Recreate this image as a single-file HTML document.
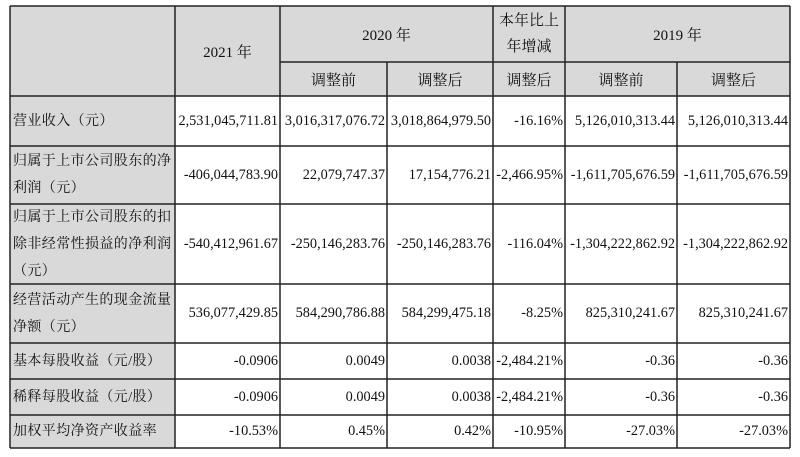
<!DOCTYPE html>
<html><head><meta charset="utf-8"><style>
body{margin:0;width:800px;height:457px;background:#fff;position:relative;overflow:hidden;font-family:"Liberation Serif","Noto Serif CJK SC",serif;color:#111;font-size:15px}
.c{position:absolute;box-sizing:border-box;display:flex;align-items:center}
.g{background:#d9d9d9}
.ctr{justify-content:center;text-align:center}
.r{justify-content:flex-end;padding-right:2px;white-space:nowrap;font-size:14.3px}
.l{padding-left:3px;line-height:27px;font-size:14px;letter-spacing:0.4px;white-space:nowrap}
svg{position:absolute;left:0;top:0}
</style></head><body>
<div class="c g" style="left:10px;top:6px;width:165px;height:90px"></div>
<div class="c g ctr" style="left:175px;top:6px;width:105px;height:90px">2021 年</div>
<div class="c g ctr" style="left:280px;top:6px;width:213px;height:56px">2020 年</div>
<div class="c g ctr" style="left:493px;top:6px;width:72px;height:56px;line-height:26px">本年比上<br>年增减</div>
<div class="c g ctr" style="left:565px;top:6px;width:225px;height:56px">2019 年</div>
<div class="c g ctr" style="left:280px;top:62px;width:107px;height:34px">调整前</div>
<div class="c g ctr" style="left:387px;top:62px;width:106px;height:34px">调整后</div>
<div class="c g ctr" style="left:493px;top:62px;width:72px;height:34px">调整后</div>
<div class="c g ctr" style="left:565px;top:62px;width:112px;height:34px">调整前</div>
<div class="c g ctr" style="left:677px;top:62px;width:113px;height:34px">调整后</div>

<div class="c g l" style="left:10px;top:96px;width:165px;height:50px">营业收入（元）</div>
<div class="c r" style="left:175px;top:96px;width:105px;height:50px">2,531,045,711.81</div>
<div class="c r" style="left:280px;top:96px;width:107px;height:50px">3,016,317,076.72</div>
<div class="c r" style="left:387px;top:96px;width:106px;height:50px">3,018,864,979.50</div>
<div class="c r" style="left:493px;top:96px;width:72px;height:50px">-16.16%</div>
<div class="c r" style="left:565px;top:96px;width:112px;height:50px">5,126,010,313.44</div>
<div class="c r" style="left:677px;top:96px;width:113px;height:50px">5,126,010,313.44</div>

<div class="c g l" style="left:10px;top:146px;width:165px;height:58px">归属于上市公司股东的净<br>利润（元）</div>
<div class="c r" style="left:175px;top:146px;width:105px;height:58px">-406,044,783.90</div>
<div class="c r" style="left:280px;top:146px;width:107px;height:58px">22,079,747.37</div>
<div class="c r" style="left:387px;top:146px;width:106px;height:58px">17,154,776.21</div>
<div class="c r" style="left:493px;top:146px;width:72px;height:58px">-2,466.95%</div>
<div class="c r" style="left:565px;top:146px;width:112px;height:58px">-1,611,705,676.59</div>
<div class="c r" style="left:677px;top:146px;width:113px;height:58px">-1,611,705,676.59</div>

<div class="c g l" style="left:10px;top:204px;width:165px;height:80px">归属于上市公司股东的扣<br>除非经常性损益的净利润<br>（元）</div>
<div class="c r" style="left:175px;top:204px;width:105px;height:80px">-540,412,961.67</div>
<div class="c r" style="left:280px;top:204px;width:107px;height:80px">-250,146,283.76</div>
<div class="c r" style="left:387px;top:204px;width:106px;height:80px">-250,146,283.76</div>
<div class="c r" style="left:493px;top:204px;width:72px;height:80px">-116.04%</div>
<div class="c r" style="left:565px;top:204px;width:112px;height:80px">-1,304,222,862.92</div>
<div class="c r" style="left:677px;top:204px;width:113px;height:80px">-1,304,222,862.92</div>

<div class="c g l" style="left:10px;top:284px;width:165px;height:59px">经营活动产生的现金流量<br>净额（元）</div>
<div class="c r" style="left:175px;top:284px;width:105px;height:59px">536,077,429.85</div>
<div class="c r" style="left:280px;top:284px;width:107px;height:59px">584,290,786.88</div>
<div class="c r" style="left:387px;top:284px;width:106px;height:59px">584,299,475.18</div>
<div class="c r" style="left:493px;top:284px;width:72px;height:59px">-8.25%</div>
<div class="c r" style="left:565px;top:284px;width:112px;height:59px">825,310,241.67</div>
<div class="c r" style="left:677px;top:284px;width:113px;height:59px">825,310,241.67</div>

<div class="c g l" style="left:10px;top:343px;width:165px;height:36px">基本每股收益（元/股）</div>
<div class="c r" style="left:175px;top:343px;width:105px;height:36px">-0.0906</div>
<div class="c r" style="left:280px;top:343px;width:107px;height:36px">0.0049</div>
<div class="c r" style="left:387px;top:343px;width:106px;height:36px">0.0038</div>
<div class="c r" style="left:493px;top:343px;width:72px;height:36px">-2,484.21%</div>
<div class="c r" style="left:565px;top:343px;width:112px;height:36px">-0.36</div>
<div class="c r" style="left:677px;top:343px;width:113px;height:36px">-0.36</div>

<div class="c g l" style="left:10px;top:379px;width:165px;height:36px">稀释每股收益（元/股）</div>
<div class="c r" style="left:175px;top:379px;width:105px;height:36px">-0.0906</div>
<div class="c r" style="left:280px;top:379px;width:107px;height:36px">0.0049</div>
<div class="c r" style="left:387px;top:379px;width:106px;height:36px">0.0038</div>
<div class="c r" style="left:493px;top:379px;width:72px;height:36px">-2,484.21%</div>
<div class="c r" style="left:565px;top:379px;width:112px;height:36px">-0.36</div>
<div class="c r" style="left:677px;top:379px;width:113px;height:36px">-0.36</div>

<div class="c g l" style="left:10px;top:415px;width:165px;height:33px">加权平均净资产收益率</div>
<div class="c r" style="left:175px;top:415px;width:105px;height:33px">-10.53%</div>
<div class="c r" style="left:280px;top:415px;width:107px;height:33px">0.45%</div>
<div class="c r" style="left:387px;top:415px;width:106px;height:33px">0.42%</div>
<div class="c r" style="left:493px;top:415px;width:72px;height:33px">-10.95%</div>
<div class="c r" style="left:565px;top:415px;width:112px;height:33px">-27.03%</div>
<div class="c r" style="left:677px;top:415px;width:113px;height:33px">-27.03%</div>

<svg width="800" height="457" stroke="#222" stroke-width="1.5" fill="none">
<line x1="10" y1="6" x2="790" y2="6"/>
<line x1="280" y1="62" x2="790" y2="62"/>
<line x1="10" y1="96" x2="790" y2="96"/>
<line x1="10" y1="146" x2="790" y2="146"/>
<line x1="10" y1="204" x2="790" y2="204"/>
<line x1="10" y1="284" x2="790" y2="284"/>
<line x1="10" y1="343" x2="790" y2="343"/>
<line x1="10" y1="379" x2="790" y2="379"/>
<line x1="10" y1="415" x2="790" y2="415"/>
<line x1="10" y1="448" x2="790" y2="448"/>
<line x1="10" y1="6" x2="10" y2="448"/>
<line x1="175" y1="6" x2="175" y2="448"/>
<line x1="280" y1="6" x2="280" y2="448"/>
<line x1="387" y1="62" x2="387" y2="448"/>
<line x1="493" y1="6" x2="493" y2="448"/>
<line x1="565" y1="6" x2="565" y2="448"/>
<line x1="677" y1="62" x2="677" y2="448"/>
<line x1="790" y1="6" x2="790" y2="448"/>
</svg>
</body></html>
